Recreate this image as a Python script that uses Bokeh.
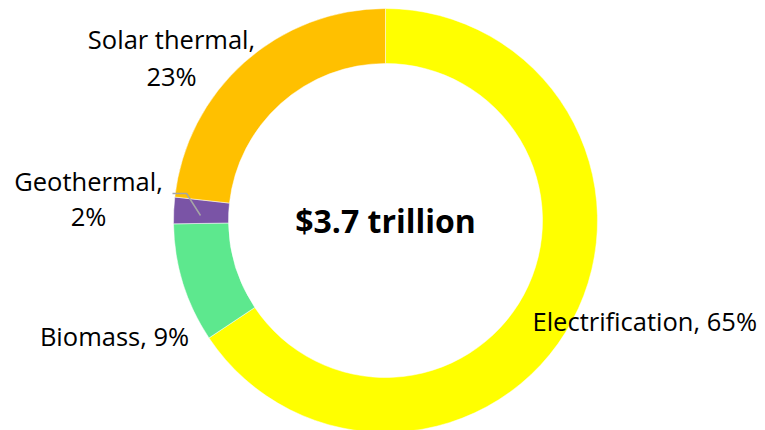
import numpy as np
from bokeh.plotting import figure
from bokeh.models import ColumnDataSource
from bokeh.core.properties import value
from bokeh.embed import file_html
from bokeh.resources import INLINE

categories = ["Electrification", "Biomass", "Geothermal", "Solar thermal"]
shares = [65, 9, 2, 23]
colors = ["#FFFF00", "#5DE88E", "#7A54A6", "#FFC000"]
center_label = "$3.7 trillion"

W, H = 765, 430
cx, cy = 385, H - 220
r_out, r_in = 212, 157

total = sum(shares)
frac = np.array(shares) / total
cum = np.concatenate([[0], np.cumsum(frac)])
start = np.pi / 2 - 2 * np.pi * cum[:-1]
end = np.pi / 2 - 2 * np.pi * cum[1:]

src = ColumnDataSource(dict(start=start, end=end, color=colors,
                            x=[cx] * 4, y=[cy] * 4))

p = figure(width=W, height=H, x_range=(0, W), y_range=(0, H),
           output_backend="svg", toolbar_location=None, min_border=0)
p.axis.visible = False
p.grid.visible = False
p.outline_line_color = None
p.background_fill_color = "white"

p.annular_wedge(x="x", y="y", inner_radius=r_in, outer_radius=r_out,
                start_angle="start", end_angle="end", direction="clock",
                color="color", line_color="white", line_width=0.5, source=src)

# leader line for Geothermal
p.line(x=[172, 186, 200], y=[H - 193, H - 193, H - 215], line_color="#A6A6A6", line_width=1.5)

font = value("Open Sans")
labels = [
    (f"{categories[3]},", 171, 38, "center"),
    (f"{shares[3]}%", 171, 75, "center"),
    (f"{categories[2]},", 88, 180, "center"),
    (f"{shares[2]}%", 88, 215, "center"),
    (f"{categories[1]}, {shares[1]}%", 114, 335, "center"),
    (f"{categories[0]}, {shares[0]}%", 532, 320, "left"),
]
for t, x, y, a in labels:
    p.text(x=[x], y=[H - y], text=[t], text_font=font, text_font_size="25.5px",
           text_align=a, text_baseline="middle", text_color="#000000")

p.text(x=[cx], y=[cy], text=[center_label], text_font=font, text_font_size="32px",
       text_font_style="bold", text_align="center", text_baseline="middle",
       text_color="#000000")

open("out.html", "w").write(file_html(p, INLINE))
